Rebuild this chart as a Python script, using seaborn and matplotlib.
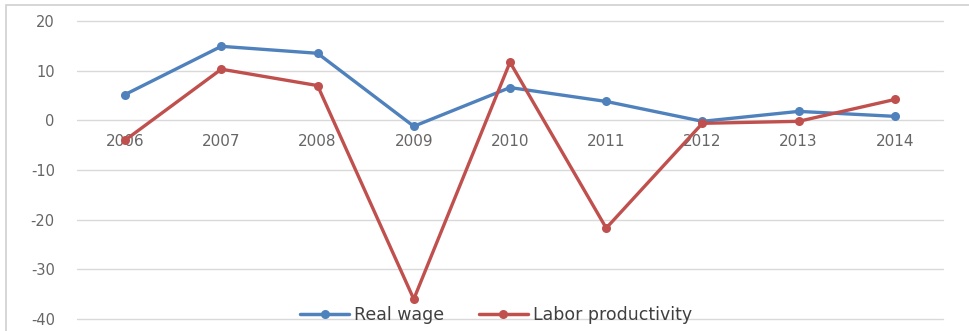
import matplotlib
matplotlib.use("Agg")
import matplotlib.pyplot as plt
import seaborn as sns
import pandas as pd
from matplotlib.patches import Rectangle

years = ["2006", "2007", "2008", "2009", "2010", "2011", "2012", "2013", "2014"]
real_wage = [5.2, 14.9, 13.5, -1.2, 6.6, 3.8, -0.2, 1.8, 0.8]
labor_productivity = [-4.0, 10.3, 7.0, -36.0, 11.7, -21.7, -0.6, -0.2, 4.2]
series_names = ["Real wage", "Labor productivity"]
colors = ["#4F81BD", "#C0504D"]
yticks = [20, 10, 0, -10, -20, -30, -40]

df = pd.DataFrame({
    "year": years * 2,
    "value": real_wage + labor_productivity,
    "series": [series_names[0]] * len(years) + [series_names[1]] * len(years),
})

sns.set_theme(style="white")
plt.rcParams["font.family"] = ["DejaVu Sans"]

fig = plt.figure(figsize=(9.69, 3.31), dpi=100)
ax = fig.add_axes([77 / 969, 1 - 319 / 331, (943 - 77) / 969, (319 - 21) / 331])

sns.lineplot(data=df, x="year", y="value", hue="series", hue_order=series_names,
             palette=colors, marker="o", markersize=6.5, markeredgewidth=0,
             linewidth=2.4, ax=ax, sort=False)

ax.set_xlim(-0.5, len(years) - 0.5)
ax.set_ylim(-40, 20)
ax.set_yticks(yticks)
ax.set_yticklabels([str(t) for t in yticks])
ax.yaxis.grid(True, color="#D9D9D9", linewidth=1.0)
for gl in ax.get_ygridlines():
    gl.set_clip_on(False)
ax.xaxis.grid(False)
ax.set_axisbelow(True)
for s in ["top", "right", "left"]:
    ax.spines[s].set_visible(False)
ax.spines["bottom"].set_position(("data", 0))
ax.spines["bottom"].set_visible(False)
ax.tick_params(axis="x", length=0, pad=10, labelsize=11, labelcolor="#666666")
ax.tick_params(axis="y", length=0, pad=16, labelsize=10.5, labelcolor="#666666")
ax.set_xlabel("")
ax.set_ylabel("")

leg = ax.legend(loc="center", bbox_to_anchor=(0.484, 0.013), ncol=2, frameon=False,
                fontsize=12.5, handlelength=2.8, columnspacing=2.0, handletextpad=0.3,
                labelcolor="#404040", borderpad=0.1)
for line in leg.get_lines():
    line.set_linewidth(2.5)

fig.patches.append(Rectangle((6 / 969, -0.1), 1.1, 1 - 5 / 331 + 0.1,
                             transform=fig.transFigure, fill=False,
                             edgecolor="#D0D0D0", linewidth=1.2))

fig.savefig("out.png", dpi=100)
